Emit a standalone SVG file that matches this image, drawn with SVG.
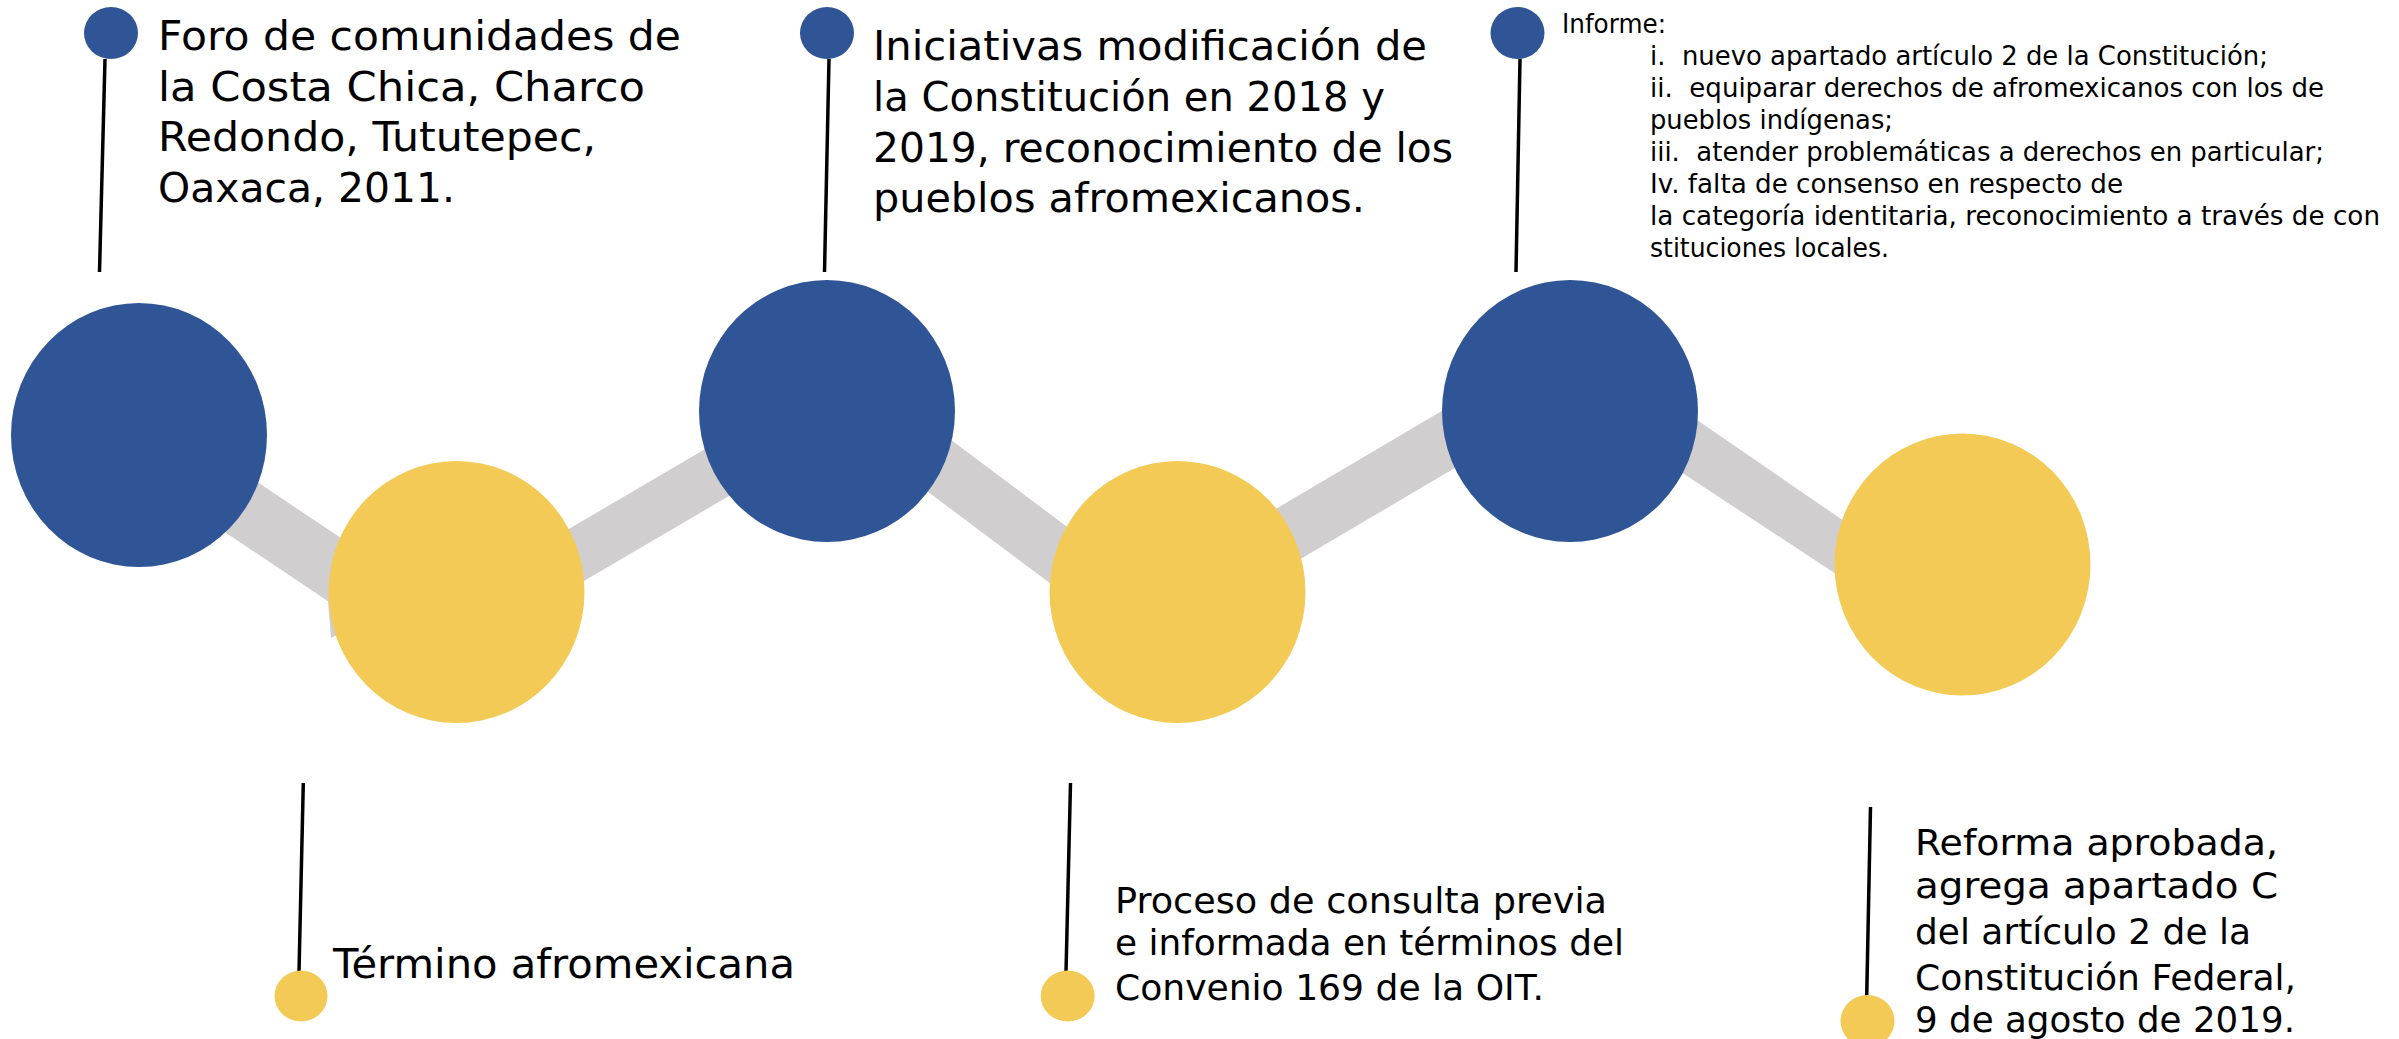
<svg xmlns="http://www.w3.org/2000/svg" width="2399" height="1039" viewBox="0 0 2399 1039">
<style>
.t{font-family:"DejaVu Sans","Liberation Sans",sans-serif;fill:#000;white-space:pre}
.big{font-size:40px}
.mid{font-size:36px}
.sm{font-size:26px}
.band{fill:#D0CECE}
.pin{stroke:#000;stroke-width:3.5;fill:none}
.blue{fill:#2F5597}
.yel{fill:#F2CA55}
</style>
<rect width="2399" height="1039" fill="#fff"/>
<g id="connectors">
<polygon class="band" points="150,410.1 420,591 331,638 328,601.2 150,481.9"/>
<polygon class="band" points="480,581 800,393.5 800,454.4 480,641.9"/>
<polygon class="band" points="850,364.4 1150,588.9 1150,658 850,433.5"/>
<polygon class="band" points="1200,553.6 1540,353 1540,417.7 1200,618.3"/>
<polygon class="band" points="1600,353.5 1940,586.9 1940,642.4 1600,418.8"/>
<line class="pin" x1="105" y1="59" x2="99.5" y2="272"/>
<line class="pin" x1="829" y1="59" x2="824.5" y2="272"/>
<line class="pin" x1="1520" y1="59" x2="1516" y2="272"/>
<line class="pin" x1="303.3" y1="783" x2="299" y2="972"/>
<line class="pin" x1="1070.5" y1="783" x2="1066" y2="972"/>
<line class="pin" x1="1870.5" y1="807" x2="1866.7" y2="997"/>
</g>
<g id="node-1">
<ellipse class="blue" cx="139" cy="435" rx="128" ry="132"/>
</g>
<g id="node-2">
<ellipse class="yel" cx="456.5" cy="592" rx="128" ry="131"/>
</g>
<g id="node-3">
<ellipse class="blue" cx="827" cy="411" rx="128" ry="131"/>
</g>
<g id="node-4">
<ellipse class="yel" cx="1177.5" cy="592" rx="128" ry="131"/>
</g>
<g id="node-5">
<ellipse class="blue" cx="1570" cy="411" rx="128" ry="131"/>
</g>
<g id="node-6">
<ellipse class="yel" cx="1962.5" cy="564.5" rx="128" ry="131"/>
</g>
<g id="label-1">
<ellipse class="blue" cx="111" cy="33" rx="27" ry="26"/>
<text class="t big" x="158" y="50" textLength="523" lengthAdjust="spacingAndGlyphs">Foro de comunidades de</text>
<text class="t big" x="158" y="101" textLength="487" lengthAdjust="spacingAndGlyphs">la Costa Chica, Charco</text>
<text class="t big" x="158" y="151" textLength="438" lengthAdjust="spacingAndGlyphs">Redondo, Tututepec,</text>
<text class="t big" x="158" y="202" textLength="297" lengthAdjust="spacingAndGlyphs">Oaxaca, 2011.</text>
</g>
<g id="label-2">
<ellipse class="yel" cx="301" cy="996" rx="26.5" ry="25.5"/>
<text class="t" style="font-size:41px" x="333" y="978" textLength="462" lengthAdjust="spacingAndGlyphs">Término afromexicana</text>
</g>
<g id="label-3">
<ellipse class="blue" cx="827" cy="33" rx="27" ry="26"/>
<text class="t big" x="873" y="60" textLength="554" lengthAdjust="spacingAndGlyphs">Iniciativas modificación de</text>
<text class="t big" x="873" y="111" textLength="512" lengthAdjust="spacingAndGlyphs">la Constitución en 2018 y</text>
<text class="t big" x="873" y="162" textLength="580" lengthAdjust="spacingAndGlyphs">2019, reconocimiento de los</text>
<text class="t big" x="873" y="212" textLength="492" lengthAdjust="spacingAndGlyphs">pueblos afromexicanos.</text>
</g>
<g id="label-4">
<ellipse class="yel" cx="1067.7" cy="996" rx="27" ry="25.5"/>
<text class="t mid" x="1115" y="913" textLength="492" lengthAdjust="spacingAndGlyphs">Proceso de consulta previa</text>
<text class="t mid" x="1115" y="955" textLength="509" lengthAdjust="spacingAndGlyphs">e informada en términos del</text>
<text class="t mid" x="1115" y="1000" textLength="429" lengthAdjust="spacingAndGlyphs">Convenio 169 de la OIT.</text>
</g>
<g id="label-5">
<ellipse class="blue" cx="1517.5" cy="33" rx="27" ry="26"/>
<text class="t sm" x="1562" y="33" textLength="104" lengthAdjust="spacingAndGlyphs">Informe:</text>
<text class="t sm" x="1650" y="65" textLength="618" lengthAdjust="spacingAndGlyphs">i.  nuevo apartado artículo 2 de la Constitución;</text>
<text class="t sm" x="1650" y="97" textLength="674" lengthAdjust="spacingAndGlyphs">ii.  equiparar derechos de afromexicanos con los de</text>
<text class="t sm" x="1650" y="129" textLength="243" lengthAdjust="spacingAndGlyphs">pueblos indígenas;</text>
<text class="t sm" x="1650" y="161" textLength="674" lengthAdjust="spacingAndGlyphs">iii.  atender problemáticas a derechos en particular;</text>
<text class="t sm" x="1650" y="193" textLength="473" lengthAdjust="spacingAndGlyphs">Iv. falta de consenso en respecto de</text>
<text class="t sm" x="1650" y="225" textLength="730" lengthAdjust="spacingAndGlyphs">la categoría identitaria, reconocimiento a través de con</text>
<text class="t sm" x="1650" y="257" textLength="239" lengthAdjust="spacingAndGlyphs">stituciones locales.</text>
</g>
<g id="label-6">
<ellipse class="yel" cx="1867.5" cy="1021" rx="27" ry="26"/>
<text class="t" style="font-size:35px" x="1915" y="855" textLength="363" lengthAdjust="spacingAndGlyphs">Reforma aprobada,</text>
<text class="t" style="font-size:35px" x="1915" y="898" textLength="363" lengthAdjust="spacingAndGlyphs">agrega apartado C</text>
<text class="t" style="font-size:35px" x="1915" y="944" textLength="336" lengthAdjust="spacingAndGlyphs">del artículo 2 de la</text>
<text class="t" style="font-size:35px" x="1915" y="990" textLength="381" lengthAdjust="spacingAndGlyphs">Constitución Federal,</text>
<text class="t" style="font-size:35px" x="1915" y="1032" textLength="380" lengthAdjust="spacingAndGlyphs">9 de agosto de 2019.</text>
</g>
</svg>
